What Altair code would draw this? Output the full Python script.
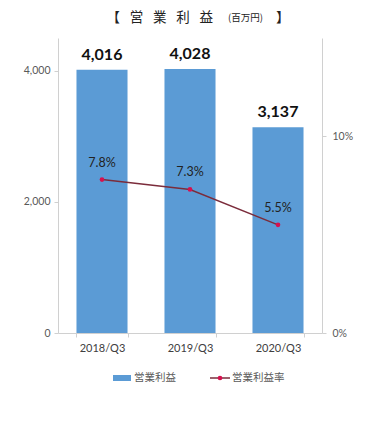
import altair as alt
import pandas as pd

periods = ["2018/Q3", "2019/Q3", "2020/Q3"]
profit = [4016, 4028, 3137]
rate = [0.078, 0.073, 0.055]

df = pd.DataFrame({
    "period": periods,
    "profit": profit,
    "rate": rate,
    "profit_label": [f"{v:,}" for v in profit],
})

NUM_FONT = "Lato"
JP_FONT = "Noto Sans CJK JP"
BAR_COLOR = "#5B9BD5"
LINE_COLOR = "#7B2C3B"
DOT_COLOR = "#D6114F"
AXIS_GRAY = "#D0D0D0"
LABEL_GRAY = "#595959"

H = 325      # full view height (title lives in the top band)
TOP = 30     # where the value axes begin

x_enc = alt.X(
    "period:N", sort=periods,
    scale=alt.Scale(paddingInner=0.42, paddingOuter=0.21),
    axis=alt.Axis(title=None, labelAngle=0, tickBand="extent", tickSize=4,
                  labelPadding=5, labelFont=NUM_FONT, labelFontSize=11,
                  labelColor="#404040", domainColor=AXIS_GRAY, tickColor=AXIS_GRAY),
)

y_profit = alt.Y(
    "profit:Q", scale=alt.Scale(domain=[0, 4500], nice=False, range=[H, TOP]),
    axis=alt.Axis(orient="left", values=[0, 2000, 4000], format=",.0f", grid=False,
                  title=None, tickSize=4, labelPadding=4, labelFont=NUM_FONT,
                  labelFontSize=10.5, labelColor=LABEL_GRAY,
                  domainColor=AXIS_GRAY, tickColor=AXIS_GRAY),
)

y_rate = alt.Y(
    "rate:Q", scale=alt.Scale(domain=[0, 0.15], nice=False, range=[H, TOP]),
    axis=alt.Axis(orient="right", values=[0, 0.1], format=".0%", grid=False,
                  title=None, tickSize=4, labelPadding=6, labelFont=NUM_FONT,
                  labelFontSize=10.5, labelColor=LABEL_GRAY,
                  domainColor=AXIS_GRAY, tickColor=AXIS_GRAY),
)

base = alt.Chart(df)

bars = base.mark_bar(color=BAR_COLOR).encode(x=x_enc, y=y_profit)
bar_text = base.mark_text(font=NUM_FONT, fontSize=16, fontWeight="bold",
                          baseline="bottom", dy=-7, color="#111111").encode(
    x=x_enc, y=y_profit, text="profit_label:N")
bar_layer = alt.layer(bars, bar_text)

line = base.mark_line(color=LINE_COLOR, strokeWidth=1.5).encode(x=x_enc, y=y_rate)
pts = base.mark_point(filled=True, color=DOT_COLOR, size=22, opacity=1).encode(x=x_enc, y=y_rate)
rate_text = base.mark_text(font=NUM_FONT, fontSize=12.5, baseline="middle", dy=-17,
                           color="#222222").encode(
    x=x_enc, y=y_rate, text=alt.Text("rate:Q", format=".1%"))
line_layer = alt.layer(line, pts, rate_text)

one = alt.Chart(pd.DataFrame({"a": [0]}))

TY = 10
sp = "\u2002 "
title_main = one.mark_text(font=JP_FONT, fontSize=13.5, align="right", baseline="middle",
                           color="#222222").encode(
    x=alt.value(155), y=alt.value(TY),
    text=alt.value("【" + sp + "営" + sp + "業" + sp + "利" + sp + "益"))
title_unit = one.mark_text(font=JP_FONT, fontSize=9.5, align="left", baseline="middle",
                           color="#222222").encode(
    x=alt.value(170), y=alt.value(TY), text=alt.value("(百万円)"))
title_end = one.mark_text(font=JP_FONT, fontSize=13.5, align="left", baseline="middle",
                          color="#222222").encode(
    x=alt.value(218), y=alt.value(TY), text=alt.value("】"))

LY = H + 45
leg_rect = one.mark_rect(color=BAR_COLOR).encode(
    x=alt.value(55), x2=alt.value(73), y=alt.value(LY - 3), y2=alt.value(LY + 3))
leg_text1 = one.mark_text(font=JP_FONT, fontSize=10.5, align="left", baseline="middle",
                          color=LABEL_GRAY).encode(
    x=alt.value(76), y=alt.value(LY), text=alt.value("営業利益"))
leg_line = one.mark_rule(color=LINE_COLOR, strokeWidth=1.5).encode(
    x=alt.value(152), x2=alt.value(172), y=alt.value(LY))
leg_dot = one.mark_point(filled=True, color=DOT_COLOR, size=22, opacity=1).encode(
    x=alt.value(162), y=alt.value(LY))
leg_text2 = one.mark_text(font=JP_FONT, fontSize=10.5, align="left", baseline="middle",
                          color=LABEL_GRAY).encode(
    x=alt.value(174), y=alt.value(LY), text=alt.value("営業利益率"))

main = alt.layer(bar_layer, line_layer).resolve_scale(y="independent")

chart = alt.layer(
    main, title_main, title_unit, title_end,
    leg_rect, leg_text1, leg_line, leg_dot, leg_text2,
).properties(
    width=264, height=H,
    autosize=alt.AutoSizeParams(type="none"),
    padding={"left": 50, "top": 0, "right": 50, "bottom": 80},
).configure_view(stroke=None)

chart.save("out.html", embed_options={"renderer": "svg", "actions": False})
